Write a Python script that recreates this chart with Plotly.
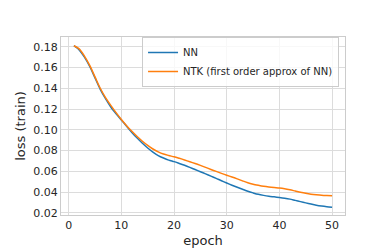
import plotly.graph_objects as go

epochs = list(range(1, 51))
nn_loss = [0.181, 0.177, 0.170, 0.161, 0.150, 0.139, 0.130, 0.122, 0.1155, 0.1095,
           0.1035, 0.0975, 0.0920, 0.0870, 0.0825, 0.0785, 0.0752, 0.0728, 0.0708, 0.0693,
           0.0676, 0.0658, 0.0638, 0.0617, 0.0596, 0.0575, 0.0554, 0.0532, 0.0509, 0.0487,
           0.0466, 0.0446, 0.0427, 0.0408, 0.0392, 0.0378, 0.0368, 0.0360, 0.0354, 0.0348,
           0.0341, 0.0332, 0.0320, 0.0308, 0.0296, 0.0284, 0.0273, 0.0265, 0.0259, 0.0254]
ntk_loss = [0.181, 0.178, 0.171, 0.162, 0.151, 0.140, 0.131, 0.1235, 0.1165, 0.1100,
            0.1040, 0.0985, 0.0935, 0.0890, 0.0850, 0.0815, 0.0787, 0.0766, 0.0752, 0.0740,
            0.0725, 0.0709, 0.0692, 0.0675, 0.0657, 0.0638, 0.0618, 0.0599, 0.0580, 0.0562,
            0.0545, 0.0527, 0.0508, 0.0490, 0.0476, 0.0465, 0.0455, 0.0448, 0.0443, 0.0439,
            0.0432, 0.0422, 0.0410, 0.0398, 0.0388, 0.0380, 0.0374, 0.0369, 0.0366, 0.0364]
x_ticks = [0, 10, 20, 30, 40, 50]
y_ticks = [0.02, 0.04, 0.06, 0.08, 0.10, 0.12, 0.14, 0.16, 0.18]
y_tick_labels = ["0.02", "0.04", "0.06", "0.08", "0.10", "0.12", "0.14", "0.16", "0.18"]

fig = go.Figure()
fig.add_trace(go.Scatter(x=epochs, y=nn_loss, mode="lines", name="NN",
                         line=dict(color="#1f77b4", width=1.5, shape="spline", smoothing=0.8)))
fig.add_trace(go.Scatter(x=epochs, y=ntk_loss, mode="lines", name="NTK (first order approx of NN)",
                         line=dict(color="#ff7f0e", width=1.5, shape="spline", smoothing=0.8)))

axis_common = dict(showgrid=True, gridcolor="#dcdcdc", gridwidth=1, zeroline=False,
                   showline=True, linecolor="#cccccc", linewidth=1, mirror=True,
                   ticks="", tickfont=dict(size=11, color="#262626"))

fig.update_layout(
    width=374, height=249,
    margin=dict(l=46, r=37, t=29, b=32),
    paper_bgcolor="white", plot_bgcolor="white",
    font=dict(family="DejaVu Sans", color="#262626"),
    xaxis=dict(range=[-1.45, 52.45], tickvals=x_ticks,
               title=dict(text="epoch", font=dict(size=13), standoff=4), **axis_common),
    yaxis=dict(range=[0.0179, 0.1894], tickvals=y_ticks, ticktext=y_tick_labels,
               title=dict(text="loss (train)", font=dict(size=13), standoff=4), **axis_common),
    legend=dict(x=0.979, y=1.0, xanchor="right", yanchor="top",
                bgcolor="rgba(255,255,255,0.8)", bordercolor="#cccccc", borderwidth=1,
                font=dict(size=10, color="#262626"), tracegroupgap=0,
                itemwidth=30),
    showlegend=True,
)

fig.write_html("out.html")
